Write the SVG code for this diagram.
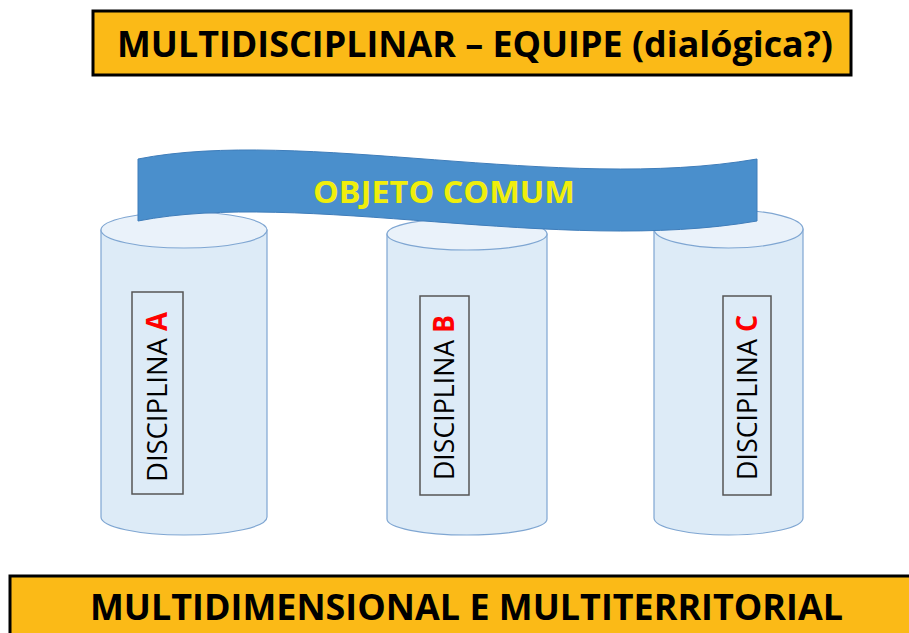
<svg xmlns="http://www.w3.org/2000/svg" width="909" height="633" viewBox="0 0 909 633">
<style>
.title{font-family:"Open Sans","Liberation Sans",sans-serif;font-weight:bold;font-size:35px;fill:#000}
.box{fill:#FBBA17;stroke:#000;stroke-width:3}
.cylbody{fill:#DDEBF7;stroke:#7FA6D2;stroke-width:1.2}
.cyltop{fill:#EAF2FA;stroke:#7FA6D2;stroke-width:1.2}
.lblbox{fill:none;stroke:#555;stroke-width:1.5}
.lbl{font-family:"Open Sans","Liberation Sans",sans-serif;font-size:28px;fill:#000}
.letter{fill:#FF0000;font-weight:bold}
.banner{fill:#4A8FCC;stroke:#3F7DBA;stroke-width:1}
.bannertxt{font-family:"Open Sans","Liberation Sans",sans-serif;font-weight:bold;font-size:30px;fill:#F0EE0C}
</style>
<rect width="909" height="633" fill="#fff"/>

<g id="title-top">
<rect class="box" x="93" y="11" width="758" height="64"/>
<text class="title" x="117" y="57" textLength="716" lengthAdjust="spacingAndGlyphs">MULTIDISCIPLINAR – EQUIPE (dialógica?)</text>
</g>

<g id="disciplina-a">
<path class="cylbody" d="M101,230 L101,517 A83,18 0 0 0 267,517 L267,230 Z"/>
<ellipse class="cyltop" cx="184" cy="230" rx="83" ry="18"/>
<rect class="lblbox" x="132" y="292" width="51" height="202"/>
<text class="lbl" transform="translate(167,482) rotate(-90)" textLength="170" lengthAdjust="spacingAndGlyphs">DISCIPLINA <tspan class="letter">A</tspan></text>
</g>

<g id="disciplina-b">
<path class="cylbody" d="M387,234 L387,519 A80,16 0 0 0 547,519 L547,234 Z"/>
<ellipse class="cyltop" cx="467" cy="234" rx="80" ry="16"/>
<rect class="lblbox" x="420" y="296" width="49" height="199"/>
<text class="lbl" transform="translate(454,480) rotate(-90)" textLength="165" lengthAdjust="spacingAndGlyphs">DISCIPLINA <tspan class="letter">B</tspan></text>
</g>

<g id="disciplina-c">
<path class="cylbody" d="M654,229 L654,518 A74.5,17 0 0 0 803,518 L803,229 Z"/>
<ellipse class="cyltop" cx="728.5" cy="229" rx="74.5" ry="19"/>
<rect class="lblbox" x="723" y="296" width="48" height="199"/>
<text class="lbl" transform="translate(757,480) rotate(-90)" textLength="165" lengthAdjust="spacingAndGlyphs">DISCIPLINA <tspan class="letter">C</tspan></text>
</g>

<g id="objeto-comum">
<path class="banner" d="M138,159 C300,127 560,193 757,159 L757,221 C560,255 300,189 138,221 Z"/>
<text class="bannertxt" x="313" y="203" textLength="262" lengthAdjust="spacingAndGlyphs">OBJETO COMUM</text>
</g>

<g id="title-bottom">
<rect class="box" x="10" y="576" width="905" height="62"/>
<text class="title" x="90" y="620" textLength="753" lengthAdjust="spacingAndGlyphs">MULTIDIMENSIONAL E MULTITERRITORIAL</text>
</g>

<g id="connectors"></g>
</svg>
